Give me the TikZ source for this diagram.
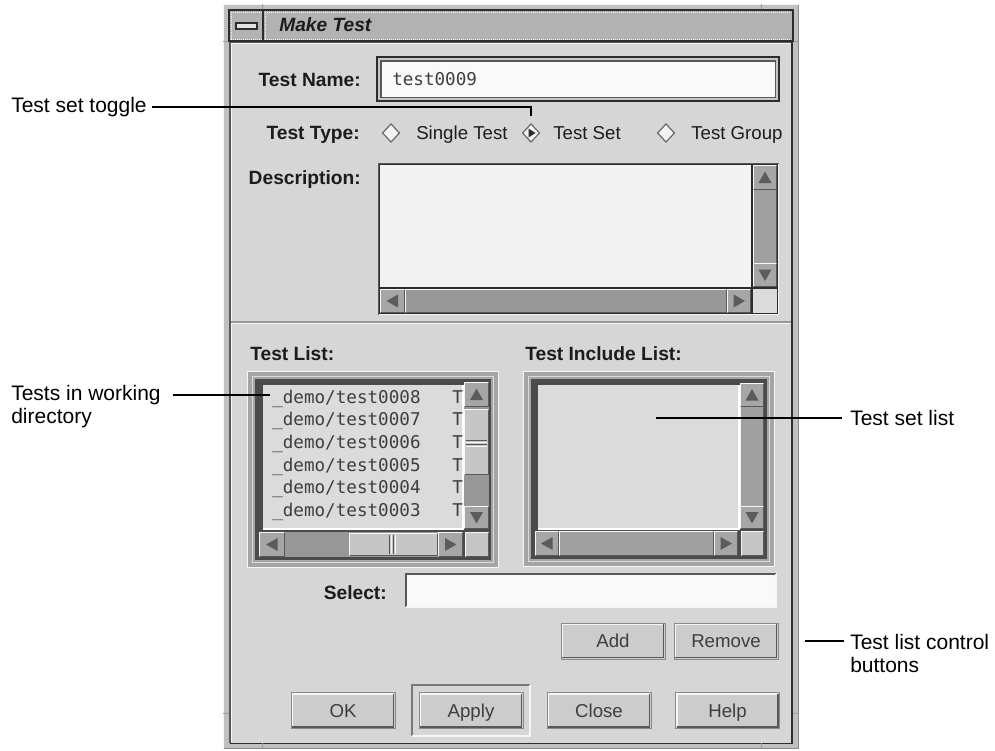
\documentclass[tikz,border=0pt]{standalone}
\usepackage{fontspec}
\setmainfont{Liberation Sans}
\newfontfamily\gMonoFam{DejaVu Sans Mono}
\usetikzlibrary{shapes.geometric}
\newcommand{\gAnnot}{\fontsize{15.75pt}{17.25pt}\selectfont}
\newcommand{\gLbl}{\fontsize{14.4pt}{16pt}\selectfont\bfseries}
\newcommand{\gTxt}{\fontsize{14pt}{16pt}\selectfont}
\newcommand{\gMono}{\gMonoFam\fontsize{13.2pt}{15pt}\selectfont}
\newcommand{\gTitle}{\fontsize{14.4pt}{16pt}\selectfont\bfseries\itshape}
\definecolor{winbg}{RGB}{214,214,214}
\definecolor{framebg}{RGB}{192,192,192}
\definecolor{titlebg}{RGB}{178,178,178}
\definecolor{hilite}{RGB}{246,246,246}
\definecolor{dkedge}{RGB}{88,88,88}
\definecolor{deep}{RGB}{45,45,45}
\definecolor{trough}{RGB}{152,152,152}
\definecolor{sbar}{RGB}{160,160,160}
\definecolor{slider}{RGB}{198,198,198}
\definecolor{arrbg}{RGB}{166,166,166}
\definecolor{tri}{RGB}{92,92,92}
\definecolor{paper}{RGB}{243,243,243}
\definecolor{fieldw}{RGB}{249,249,249}
\definecolor{listbg}{RGB}{219,219,219}
\definecolor{btnbg}{RGB}{204,204,204}
\definecolor{ring}{RGB}{165,165,165}
\definecolor{gtext}{RGB}{28,28,28}
\newcommand{\gRaised}[5]{%
  \fill[#5] (#1,#2) rectangle (#3,#4);
  \draw[hilite, line width=1pt] (#1+0.8,#4-0.8) -- (#1+0.8,#2+0.8) -- (#3-0.8,#2+0.8);
  \draw[dkedge, line width=1pt] (#3-0.8,#2+0.8) -- (#3-0.8,#4-0.8) -- (#1+0.8,#4-0.8);
}
\newcommand{\gSunken}[5]{%
  \fill[#5] (#1,#2) rectangle (#3,#4);
  \draw[dkedge, line width=1.1pt] (#1+0.8,#4-0.8) -- (#1+0.8,#2+0.8) -- (#3-0.8,#2+0.8);
  \draw[hilite, line width=1.1pt] (#3-0.8,#2+0.8) -- (#3-0.8,#4-0.8) -- (#1+0.8,#4-0.8);
}
\newcommand{\gArrow}[5]{%
  \gRaised{#1}{#2}{#3}{#4}{arrbg}
  \begin{scope}[shift={({(#1+#3)/2},{(#2+#4)/2})}, rotate=#5]
    \fill[tri] (0,-6) -- (-6.5,5.5) -- (6.5,5.5) -- cycle;
  \end{scope}
}
\newcommand{\gBevel}[1]{%
  \draw[hilite, line width=1.1pt] ([shift={(1.8,-1.8)}]#1.south west) |- ([shift={(-1.8,1.8)}]#1.north east);
  \draw[dkedge, line width=1.3pt] ([shift={(1.8,-1.8)}]#1.south west) -| ([shift={(-1.8,1.8)}]#1.north east);
}
\newcommand{\gPanel}[4]{% outer frame of a list box
  \fill[hilite] (#1,#2) rectangle (#3,#4);
  \fill[ring] (#1+1,#2+1) rectangle (#3-1,#4-1);
  \draw[listbg, line width=0.75pt] (#1+5.5,#2+5.5) rectangle (#3-5.5,#4-5.5);
  \fill[dkedge!85!black] (#1+8,#2+8) rectangle (#3-8,#4-8);
}
\tikzset{
  lead/.style={draw=black, line width=1.1pt},
  annot/.style={font=\gAnnot, inner sep=0pt, text=black, align=left},
  glbl/.style={font=\gLbl, inner sep=0pt, text=gtext},
  gtxt/.style={font=\gTxt, inner sep=0pt, text=gtext},
  gmono/.style={font=\gMono, inner sep=0pt, text=gtext!85},
  gtitle/.style={font=\gTitle, inner sep=0pt, text=gtext},
  gbtn/.style={rectangle, fill=btnbg, draw=dkedge!70, line width=0.6pt, minimum width=78pt, minimum height=27pt, inner sep=0pt, font=\gTxt, text=gtext!85, text height=10pt, text depth=0pt},
  tog/.style={diamond, draw=dkedge!90, fill=paper, line width=0.9pt, minimum width=13pt, minimum height=14pt, inner sep=0pt},
}
\begin{document}
\begin{tikzpicture}[x=0.75pt, y=-0.75pt]
\useasboundingbox (0,0) rectangle (995,750);
\fill[white] (0,0) rectangle (995,750);

% ---------- window frame ----------
\fill[framebg] (223,4) rectangle (799,749);
\draw[hilite, line width=0.75pt] (223.5,748.5) -- (223.5,4.5) -- (798.5,4.5);
\draw[dkedge!70, line width=0.75pt] (798.5,4.5) -- (798.5,748.5) -- (223.5,748.5);
\fill[winbg] (230,42) rectangle (792,743);
\draw[dkedge, line width=1pt] (230,743) -- (230,42) -- (792,42);
\draw[deep, line width=1.4pt] (792,42) -- (792,743.5) -- (230,743.5);
\draw[hilite, line width=0.6pt] (231.5,742) -- (231.5,43.5) -- (790.5,43.5);
\foreach \tx in {262,761} {
  \draw[dkedge!60, line width=0.6pt] (\tx,4) -- (\tx,10);
  \draw[dkedge!60, line width=0.6pt] (\tx,743) -- (\tx,749);
}
\foreach \ty in {41,713} {
  \draw[dkedge!60, line width=0.6pt] (223,\ty) -- (229,\ty);
  \draw[dkedge!60, line width=0.6pt] (793,\ty) -- (799,\ty);
}
% title bar
\fill[titlebg] (229,10) rectangle (793,41);
\draw[hilite, line width=0.6pt, dash pattern=on 0.75pt off 0.75pt] (231,12) -- (791,12);
\draw[hilite, line width=0.6pt, dash pattern=on 0.75pt off 0.75pt] (231,39) -- (791,39);
\draw[hilite, line width=0.6pt, dash pattern=on 0.75pt off 0.75pt] (231,12) -- (231,39);
\draw[hilite, line width=0.6pt, dash pattern=on 0.75pt off 0.75pt] (265,12) -- (265,39);
\draw[deep, line width=1pt] (229,10) rectangle (793,41);
\draw[deep, line width=0.9pt] (263,10) -- (263,41);
\fill[hilite!70!titlebg] (236,23) rectangle (257,29);
\draw[deep, line width=0.9pt] (236,23) rectangle (257,29);
\draw[deep, line width=1.2pt] (236.5,29) -- (257,29);
\node[gtitle, anchor=base west] (ttl) at (279,31) {Make Test};

% ---------- Test Name ----------
\node[glbl, anchor=base east] (lname) at (361,86) {Test Name:};
\fill[deep] (376,56) rectangle (780,102);
\fill[slider] (378,58) rectangle (778,100);
\fill[dkedge] (380,60) rectangle (776,98);
\fill[fieldw] (381.5,61.5) rectangle (774.5,96.5);
\node[gmono, anchor=base west] (tname) at (392,85) {test0009};

% ---------- Test Type ----------
\node[glbl, anchor=base east] (ltype) at (360,139) {Test Type:};
\node[tog] (d1) at (391,133) {};
\node[gtxt, anchor=base west] (t1) at (416,139) {Single Test};
\node[tog] (d2) at (531,133) {};
\fill[deep] (d2.center) ++(-2.5,-4.5) -- ++(7,4.5) -- ++(-7,4.5) -- cycle;
\node[gtxt, anchor=base west] (t2) at (553,139) {Test Set};
\node[tog] (d3) at (666,133) {};
\node[gtxt, anchor=base west] (t3) at (691,139) {Test Group};

% ---------- Description ----------
\node[glbl, anchor=base east] (ldesc) at (361,184) {Description:};
\fill[deep] (378,163) rectangle (779,315);
\draw[dkedge, line width=1pt] (378.5,315) -- (378.5,163.5) -- (779,163.5);
\draw[hilite, line width=1pt] (778.5,163.5) -- (778.5,314.5) -- (378.5,314.5);
\fill[paper] (380,165) rectangle (751,287);
\gRaised{753}{165}{777}{287}{sbar}
\gArrow{753}{165}{777}{190}{0}
\gArrow{753}{263}{777}{287}{180}
\gArrow{380}{289}{405}{313}{90}
\gRaised{405}{289}{727}{313}{trough}
\gArrow{727}{289}{751}{313}{-90}
\fill[listbg] (753,289) rectangle (777,313);

% separator
\draw[trough, line width=0.9pt] (231,322) -- (791,322);
\draw[hilite, line width=0.9pt] (231,323.6) -- (791,323.6);

% ---------- Test List ----------
\node[glbl, anchor=base west] (llist) at (250,360) {Test List:};
\gPanel{247}{371}{499}{568}
\fill[listbg] (263,385) rectangle (462,528);
\draw[white, line width=1.2pt] (462.8,385) -- (462.8,528.8) -- (263,528.8);
\fill[trough] (464,382) rectangle (489,529);
\gArrow{464}{382}{489}{407}{0}
\gRaised{464}{409}{489}{475}{slider}
\draw[dkedge, line width=0.7pt] (466,440) -- (487,440);
\draw[hilite, line width=0.7pt] (466,442) -- (487,442);
\draw[dkedge, line width=0.7pt] (466,444.5) -- (487,444.5);
\draw[hilite, line width=0.7pt] (466,446.5) -- (487,446.5);
\gArrow{464}{506}{489}{529}{180}
\fill[trough] (259,532) rectangle (463,557);
\gArrow{259}{532}{285}{557}{90}
\gRaised{349}{533}{438}{556}{slider}
\draw[dkedge, line width=0.7pt] (389,535) -- (389,554);
\draw[hilite, line width=0.7pt] (391,535) -- (391,554);
\draw[dkedge, line width=0.7pt] (393.5,535) -- (393.5,554);
\draw[hilite, line width=0.7pt] (395.5,535) -- (395.5,554);
\gArrow{438}{532}{463}{557}{-90}
\gRaised{465}{532}{489}{557}{slider}
\begin{scope}
  \clip (263,385) rectangle (462,528);
  \foreach \k/\n in {1/8,2/7,3/6,4/5,5/4,6/3} {
    \node[gmono, anchor=base west] (item\k) at (272,{403+(\k-1)*22.7}) {\_demo/test000\n};
    \node[gmono, anchor=base west] (cut\k) at (452,{403+(\k-1)*22.7}) {T};
  }
\end{scope}

% ---------- Test Include List ----------
\node[glbl, anchor=base west] (linc) at (525,360) {Test Include List:};
\gPanel{523}{371}{775}{567}
\fill[listbg] (538,385) rectangle (738,528);
\draw[white, line width=1.2pt] (738.8,385) -- (738.8,528.8) -- (538,528.8);
\gRaised{740}{383}{764}{529}{sbar}
\gArrow{740}{383}{764}{407}{0}
\gArrow{740}{506}{764}{529}{180}
\gArrow{535}{531}{559}{556}{90}
\gRaised{559}{531}{714}{556}{sbar}
\gArrow{714}{531}{738}{556}{-90}
\gRaised{741}{531}{764}{556}{slider}

% ---------- Select ----------
\node[glbl, anchor=base east] (lsel) at (387,599) {Select:};
\gSunken{405}{573}{777}{608}{fieldw}

% ---------- buttons ----------
\node[gbtn] (badd) at (613,641) {Add};
\gBevel{badd}
\node[gbtn] (brem) at (726,641) {Remove};
\gBevel{brem}
\draw[dkedge!80, line width=0.8pt] (412,736) -- (412,685) -- (530,685);
\draw[hilite, line width=0.8pt] (530,685) -- (530,736) -- (412,736);
\node[gbtn] (bok) at (343,710.5) {OK};
\gBevel{bok}
\node[gbtn] (bapply) at (471,710.5) {Apply};
\gBevel{bapply}
\node[gbtn] (bclose) at (599,710.5) {Close};
\gBevel{bclose}
\node[gbtn] (bhelp) at (727.5,710.5) {Help};
\gBevel{bhelp}

% ---------- annotations ----------
\node[annot, anchor=west] (lbl1) at (11,107) {Test set toggle};
\draw[lead] ([xshift=3.75pt]lbl1.east) -| ([yshift=5.5pt]d2.north);

\node[annot, anchor=north west] (lbl2) at (11,385) {Tests in working\\directory};
\coordinate (c2) at (270,395);
\draw[lead] ([xshift=9pt]lbl2.east |- c2) -- (c2);

\coordinate (c3) at (656,418);
\node[annot, anchor=west] (lbl3) at (850,418) {Test set list};
\draw[lead] (c3) -- ([xshift=-6pt]lbl3.west);

\node[annot, anchor=north west] (lbl4) at (850,634) {Test list control\\buttons};
\coordinate (c4) at (805,641);
\draw[lead] (c4) -- ([xshift=-4.5pt]lbl4.west |- c4);
\end{tikzpicture}
\end{document}
